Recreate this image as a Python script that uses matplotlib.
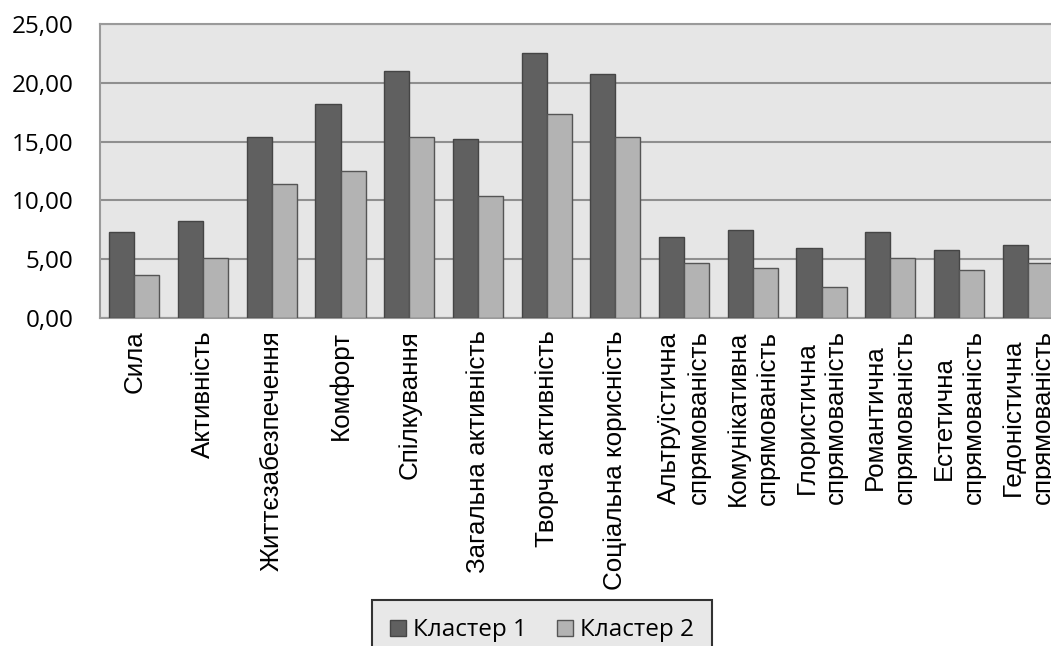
import matplotlib
matplotlib.use("Agg")
import matplotlib.pyplot as plt
import numpy as np

categories = ["Сила", "Активність", "Життєзабезпечення", "Комфорт", "Спілкування",
              "Загальна активність", "Творча активність", "Соціальна корисність",
              "Альтруїстична\nспрямованість", "Комунікативна\nспрямованість",
              "Глористична\nспрямованість", "Романтична\nспрямованість",
              "Естетична\nспрямованість", "Гедоністична\nспрямованість"]
cluster1 = [7.35, 8.27, 15.36, 18.17, 21.00, 15.22, 22.56, 20.78, 6.91, 7.51, 5.98, 7.34, 5.81, 6.23]
cluster2 = [3.63, 5.10, 11.39, 12.47, 15.39, 10.40, 17.32, 15.39, 4.68, 4.25, 2.64, 5.13, 4.05, 4.70]
series_names = ["Кластер 1", "Кластер 2"]
yticks = [0, 5, 10, 15, 20, 25]
ytick_labels = ["0,00", "5,00", "10,00", "15,00", "20,00", "25,00"]

W, H = 1051, 646
fig = plt.figure(figsize=(W / 100, H / 100), dpi=100)
ax = fig.add_axes([100 / W, 328 / H, 962 / W, 294 / H])
ax.set_facecolor("#e6e6e6")

x = np.arange(len(categories))
bw = 0.364
ax.bar(x - bw / 2, cluster1, width=bw, color="#606060", edgecolor="#454545", linewidth=1.0,
       label=series_names[0], zorder=3)
ax.bar(x + bw / 2, cluster2, width=bw, color="#b3b3b3", edgecolor="#555555", linewidth=1.0,
       label=series_names[1], zorder=3)

ax.set_xlim(-0.5, len(categories) - 0.5)
ax.set_ylim(0, 25)
ax.set_yticks(yticks)
ax.set_yticklabels(ytick_labels, fontfamily="Open Sans", fontsize=17.5)
ax.yaxis.grid(True, color="#8f8f8f", linewidth=1.5, zorder=1)
ax.set_axisbelow(True)
ax.tick_params(axis="y", length=0, pad=19)
ax.set_xticks(x)
ax.set_xticklabels(categories, rotation=90, ha="center", va="top", multialignment="center",
                   fontfamily="Liberation Sans", fontsize=18.7, linespacing=1.3)
ax.tick_params(axis="x", length=0, pad=9)

for s in ["left", "bottom", "top"]:
    ax.spines[s].set_color("#9a9a9a")
    ax.spines[s].set_linewidth(1.5)
ax.spines["right"].set_visible(False)

leg = fig.legend(loc="upper center", bbox_to_anchor=(542 / W, 1 - 600 / H),
                 ncol=2, frameon=True, fancybox=False, shadow=False,
                 prop={"family": "Open Sans", "size": 17.5},
                 handlelength=0.65, handleheight=0.65, handletextpad=0.3,
                 columnspacing=1.25, borderpad=0.75, borderaxespad=0)
frame = leg.get_frame()
frame.set_facecolor("#e8e8e8")
frame.set_edgecolor("#333333")
frame.set_linewidth(1.5)
frame.set_alpha(1)

fig.savefig("out.png", dpi=100)
